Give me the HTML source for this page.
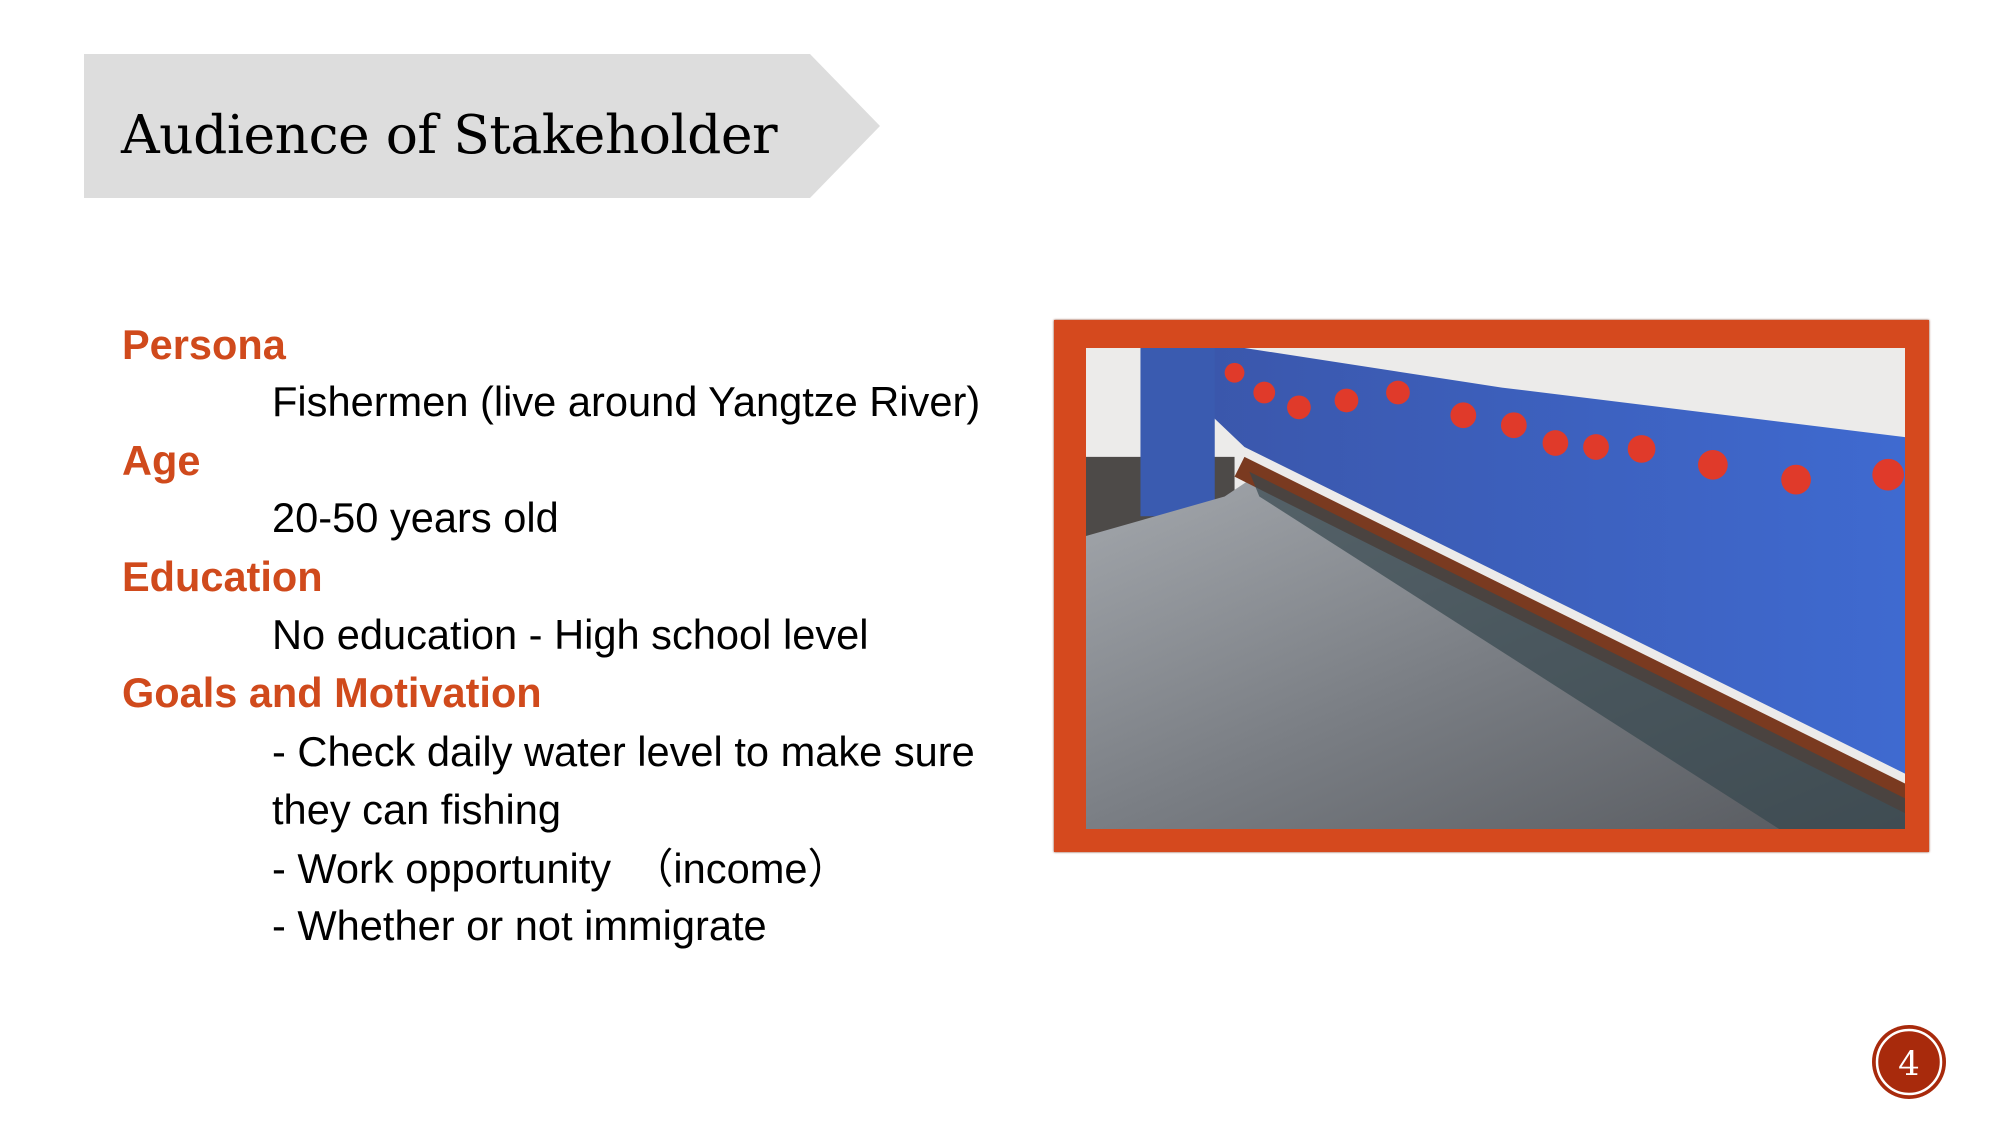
<!DOCTYPE html>
<html><head><meta charset="utf-8"><style>
body{margin:0;width:2000px;height:1125px;background:#fff;position:relative;overflow:hidden;font-family:"Liberation Sans",sans-serif}
.t{position:absolute;white-space:nowrap;line-height:48px;height:48px}
.h{color:#D04A1C;font-weight:bold;font-size:41.5px;left:122px}
.b{color:#000;font-size:41.6px;left:272px;font-family:"Liberation Sans","Noto Sans CJK SC",sans-serif}
</style></head><body>
<svg style="position:absolute;left:0;top:0" width="1000" height="260">
<polygon points="84,54 810,54 880,126 810,198 84,198" fill="#dddddd"/>
</svg>
<div class="t" style="left:121px;top:100px;height:70px;line-height:70px;font-family:'DejaVu Serif',serif;font-size:53.5px;color:#000;letter-spacing:-0.5px">Audience of Stakeholder</div>

<div class="t h" style="top:321px">Persona</div>
<div class="t b" style="top:378px">Fishermen (live around Yangtze River)</div>
<div class="t h" style="top:437px">Age</div>
<div class="t b" style="top:494px">20-50 years old</div>
<div class="t h" style="top:553px">Education</div>
<div class="t b" style="top:611px">No education - High school level</div>
<div class="t h" style="top:669px">Goals and Motivation</div>
<div class="t b" style="top:728px">- Check daily water level to make sure</div>
<div class="t b" style="top:786px">they can fishing</div>
<div class="t b" style="top:845px">- Work opportunity　（income）</div>
<div class="t b" style="top:902px">- Whether or not immigrate</div>

<div style="position:absolute;left:1054px;top:320px;width:875px;height:532px;background:#D5491E;box-shadow:0 0 2px #7a2a10"></div>
<svg style="position:absolute;left:1086px;top:348px" width="819" height="481" viewBox="0 0 827 486" preserveAspectRatio="none">
<defs>
<linearGradient id="fish" x1="0" y1="0" x2="1" y2="1"><stop offset="0" stop-color="#a4a8ad"/><stop offset="0.5" stop-color="#7a7e84"/><stop offset="1" stop-color="#55585d"/></linearGradient>
<linearGradient id="blue" x1="0" y1="0" x2="1" y2="0"><stop offset="0" stop-color="#3a55a8"/><stop offset="1" stop-color="#3f6ad0"/></linearGradient>
</defs>
<rect width="827" height="486" fill="#ecebea"/>
<polygon points="0,110 150,110 150,160 0,200" fill="#4d4a48"/>
<polygon points="55,0 160,0 420,40 827,90 827,430 160,100" fill="url(#blue)"/>
<polygon points="55,0 130,0 130,170 55,170" fill="#3a5bb0"/>
<polygon points="0,190 140,150 170,130 827,460 827,486 0,486" fill="url(#fish)"/>
<polygon points="160,110 827,440 827,470 150,130" fill="#7a3a20"/>
<polygon points="165,125 827,455 827,486 700,486 175,150" fill="#36474f" opacity="0.7"/>
<g fill="#e03a2a">
<circle cx="150" cy="25" r="10"/><circle cx="180" cy="45" r="11"/><circle cx="215" cy="60" r="12"/><circle cx="263" cy="53" r="12"/><circle cx="315" cy="45" r="12"/><circle cx="381" cy="68" r="13"/><circle cx="432" cy="78" r="13"/><circle cx="474" cy="96" r="13"/><circle cx="515" cy="100" r="13"/><circle cx="561" cy="102" r="14"/><circle cx="633" cy="118" r="15"/><circle cx="717" cy="133" r="15"/><circle cx="810" cy="128" r="16"/>
</g>
</svg>

<svg style="position:absolute;left:1870px;top:1023px" width="80" height="80">
<circle cx="39" cy="39" r="37" fill="#A82A0C"/>
<circle cx="39" cy="39" r="32" fill="none" stroke="#fff" stroke-width="2.5"/>
<text x="39" y="52" text-anchor="middle" font-family="DejaVu Serif,serif" font-size="34" fill="#fff">4</text>
</svg>
</body></html>
